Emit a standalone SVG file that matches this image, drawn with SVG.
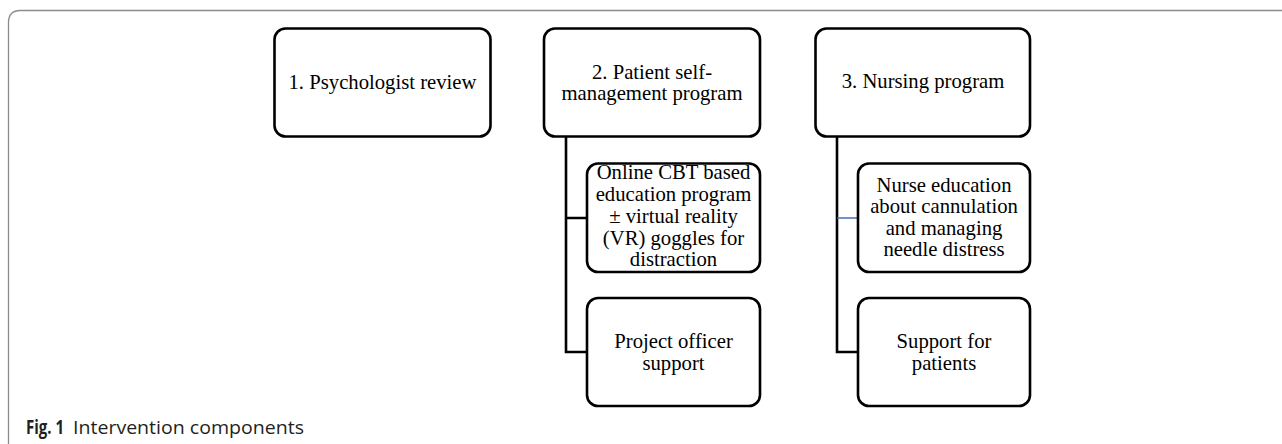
<svg xmlns="http://www.w3.org/2000/svg" width="1282" height="444" viewBox="0 0 1282 444">
<style>
.frame{fill:none;stroke:#8c8c8c;stroke-width:1.3}
.box{fill:#fff;stroke:#000;stroke-width:2.6}
.t{font-family:"Liberation Serif","Times New Roman",serif;font-size:21.5px;fill:#000;text-anchor:middle}
.conn{fill:none;stroke:#000;stroke-width:2.6}
.blue{fill:none;stroke:#3e64a8;stroke-width:1.4}
.cap{font-family:"Open Sans","Noto Sans",sans-serif;font-size:19px;fill:#231f20}
</style>
<rect width="1282" height="444" fill="#fff"/>
<path class="frame" d="M8.5,444 V22.5 Q8.5,10.5 20.5,10.5 H1282"/>
<g id="connectors">
<path class="conn" d="M566,136.5 V352 H587 M566,218 H587"/>
<path class="conn" d="M837,136.5 V352 H858"/>
<path class="blue" d="M837,218 H858"/>
</g>
<g id="n1">
<rect class="box" x="274.5" y="28.5" width="216" height="108" rx="11"/>
<text class="t" transform="translate(382.5,0) scale(0.963,1)" x="0" y="89.5">1. Psychologist review</text>
</g>
<g id="n2">
<rect class="box" x="544" y="28.5" width="216" height="108" rx="11"/>
<text class="t" transform="translate(652,0) scale(0.963,1)"><tspan x="0" y="79">2. Patient self-</tspan><tspan x="0" y="100.5">management program</tspan></text>
</g>
<g id="n3">
<rect class="box" x="815.5" y="28.5" width="214.5" height="108" rx="11"/>
<text class="t" transform="translate(923,0) scale(0.963,1)" x="0" y="88.5">3. Nursing program</text>
</g>
<g id="n2a">
<rect class="box" x="587" y="163.5" width="173" height="108.5" rx="11"/>
<text class="t" transform="translate(673.5,0) scale(0.963,1)"><tspan x="0" y="179.5">Online CBT based</tspan><tspan x="0" y="201.2">education program</tspan><tspan x="0" y="222.9">± virtual reality</tspan><tspan x="0" y="244.6">(VR) goggles for</tspan><tspan x="0" y="266.3">distraction</tspan></text>
</g>
<g id="n2b">
<rect class="box" x="587" y="298" width="173" height="108" rx="11"/>
<text class="t" transform="translate(673.5,0) scale(0.963,1)"><tspan x="0" y="348">Project officer</tspan><tspan x="0" y="369.6">support</tspan></text>
</g>
<g id="n3a">
<rect class="box" x="858" y="163.5" width="172" height="108.5" rx="11"/>
<text class="t" transform="translate(944,0) scale(0.963,1)"><tspan x="0" y="192">Nurse education</tspan><tspan x="0" y="213.5">about cannulation</tspan><tspan x="0" y="235">and managing</tspan><tspan x="0" y="256.5">needle distress</tspan></text>
</g>
<g id="n3b">
<rect class="box" x="858" y="298" width="172" height="108" rx="11"/>
<text class="t" transform="translate(944,0) scale(0.963,1)"><tspan x="0" y="348">Support for</tspan><tspan x="0" y="369.6">patients</tspan></text>
</g>
<g id="caption">
<text class="cap" x="26" y="434" font-weight="bold" font-size="16.5" textLength="38" lengthAdjust="spacingAndGlyphs">Fig. 1</text>
<text class="cap" x="73" y="434" textLength="231" lengthAdjust="spacingAndGlyphs">Intervention components</text>
</g>
</svg>
